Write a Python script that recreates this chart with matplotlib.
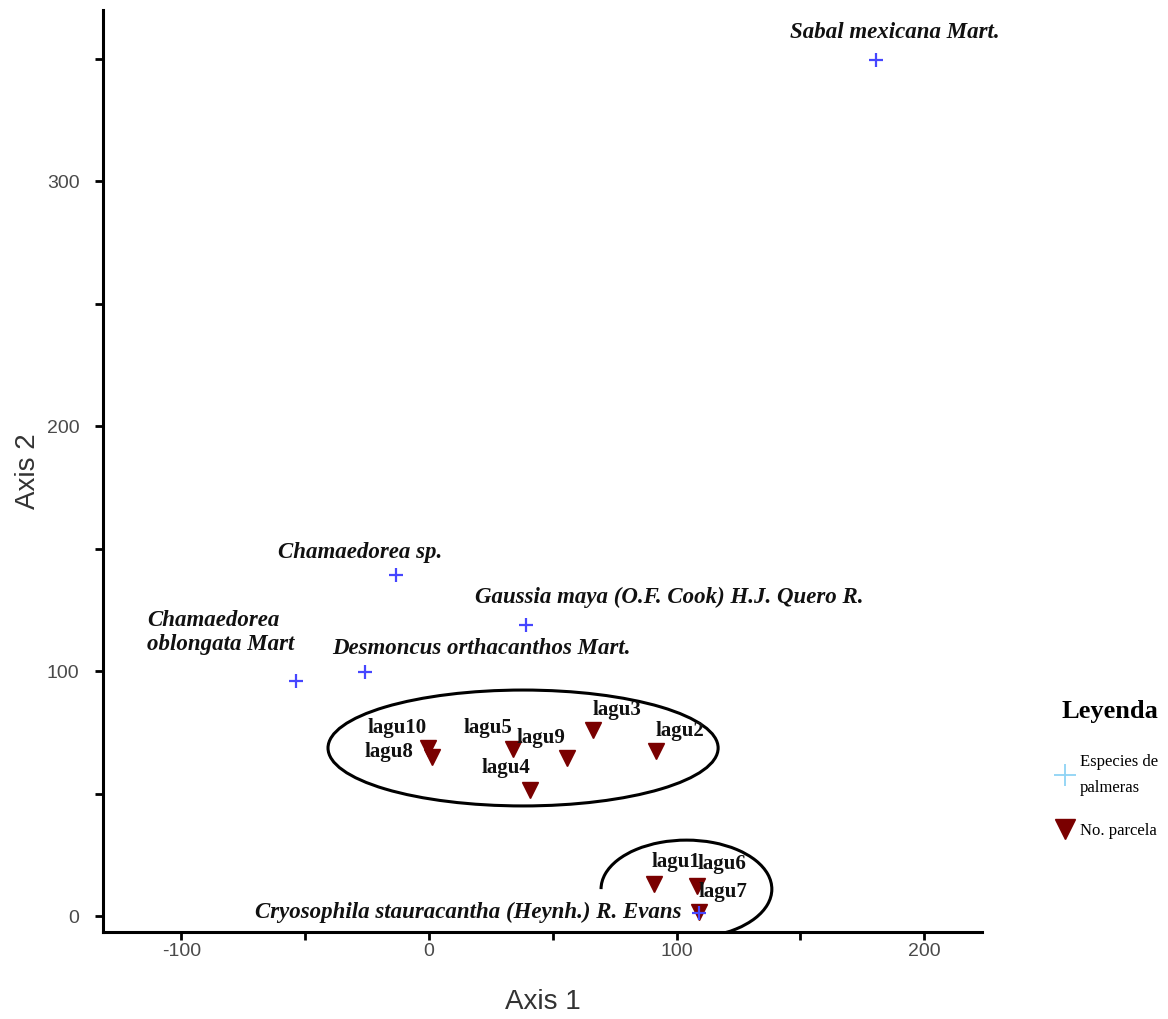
import matplotlib.pyplot as plt
from matplotlib.lines import Line2D
from matplotlib.patches import Ellipse, Arc
from matplotlib.ticker import MultipleLocator

plt.rcParams["axes.unicode_minus"] = False

# palm species (axis 1, axis 2)
species = ["Sabal mexicana Mart.", "Chamaedorea sp.", "Gaussia maya (O.F. Cook) H.J. Quero R.",
           "Chamaedorea\noblongata Mart", "Desmoncus orthacanthos Mart.",
           "Cryosophila stauracantha (Heynh.) R. Evans"]
species_x = [180.6, -13.3, 39.2, -53.7, -25.9, 109.1]
species_y = [349.4, 139.2, 118.8, 95.9, 99.6, 1.2]

# plots
plots = ["lagu10", "lagu8", "lagu5", "lagu9", "lagu3", "lagu2", "lagu4", "lagu1", "lagu6", "lagu7"]
plots_x = [-0.4, 1.2, 33.9, 55.8, 66.3, 91.7, 40.8, 90.9, 108.3, 109.1]
plots_y = [68.6, 64.9, 68.2, 64.5, 75.9, 67.3, 51.4, 13.1, 12.2, 1.6]

# label offsets in pixels (dx, dy)
species_off = [(19, 27), (-36, 23), (143, 28), (-149, 49), (117, 24), (-231, 1)]
plots_off = [(-31, 20), (-43, 5), (-25, 21), (-26, 20), (24, 20), (24, 20), (-24, 22), (22, 22), (25, 22), (24, 20)]

fig = plt.figure(figsize=(11.68, 10.19), dpi=100)
ax = fig.add_axes([103/1168, 87/1019, 879/1168, 922/1019])

ax.plot(plots_x, plots_y, "v", color="#7a0000", markersize=12, linestyle="none")
ax.plot(species_x, species_y, "+", color="#4646ff", markersize=10, markeredgewidth=1.6, linestyle="none")

serif = ["Liberation Serif", "DejaVu Serif"]
for name, x, y, (dx, dy) in zip(species, species_x, species_y, species_off):
    ha = "left" if "\n" in name else "center"
    ax.annotate(name, xy=(x, y), xytext=(dx, dy), textcoords="offset pixels",
                ha=ha, va="center", family=serif, fontweight="bold", fontstyle="italic",
                fontsize=16.5, color="#111111", linespacing=1.2)

for name, x, y, (dx, dy) in zip(plots, plots_x, plots_y, plots_off):
    ax.annotate(name, xy=(x, y), xytext=(dx, dy), textcoords="offset pixels",
                ha="center", va="center", family=serif, fontweight="bold",
                fontsize=15, color="#111111")

# groups
ax.add_patch(Ellipse((38, 68.6), 157.6, 47.3, fill=False, edgecolor="black", linewidth=2.2))
ax.add_patch(Arc((104, 11), 69, 40, theta1=240, theta2=540, edgecolor="black", linewidth=2.2))

ax.set_xlim(-131.7, 223.4)
ax.set_ylim(-6.5, 369.8)
ax.xaxis.set_major_locator(MultipleLocator(100))
ax.xaxis.set_minor_locator(MultipleLocator(50))
ax.yaxis.set_major_locator(MultipleLocator(100))
ax.yaxis.set_minor_locator(MultipleLocator(50))
ax.tick_params(which="both", direction="out", length=6, width=2, color="black")
ax.tick_params(which="major", labelsize=14, labelcolor="#4a4a4a")
ax.tick_params(axis="x", which="major", pad=2)
ax.tick_params(axis="y", which="major", pad=11)
for lab in ax.get_xticklabels() + ax.get_yticklabels():
    lab.set_family(["Liberation Sans", "DejaVu Sans"])

ax.spines[["top", "right"]].set_visible(False)
ax.spines[["left", "bottom"]].set_linewidth(2.2)

ax.set_xlabel("Axis 1", fontsize=20, color="#333333", family=["Liberation Sans", "DejaVu Sans"], labelpad=21)
ax.set_ylabel("Axis 2", fontsize=20, color="#333333", family=["Liberation Sans", "DejaVu Sans"], labelpad=4)

handles = [Line2D([], [], marker="+", color="#8fd3f4", markersize=16, markeredgewidth=1.3, linestyle="none"),
           Line2D([], [], marker="v", color="#7a0000", markersize=14, linestyle="none")]
leg = fig.legend(handles, ["Especies de\npalmeras", "No. parcela"], loc="upper left",
                 bbox_to_anchor=(1040/1168, 1 - 685/1019), frameon=False, title="Leyenda",
                 prop={"family": serif, "size": 12}, labelspacing=1.6, handletextpad=0.3,
                 handlelength=1.2)
leg.get_title().set_fontproperties({"family": serif, "size": 19, "weight": "bold"})
leg._legend_box.align = "right"
leg._legend_box.sep = 22
for t in leg.get_texts():
    t.set_linespacing(1.9)

fig.savefig("out.png", dpi=100)
